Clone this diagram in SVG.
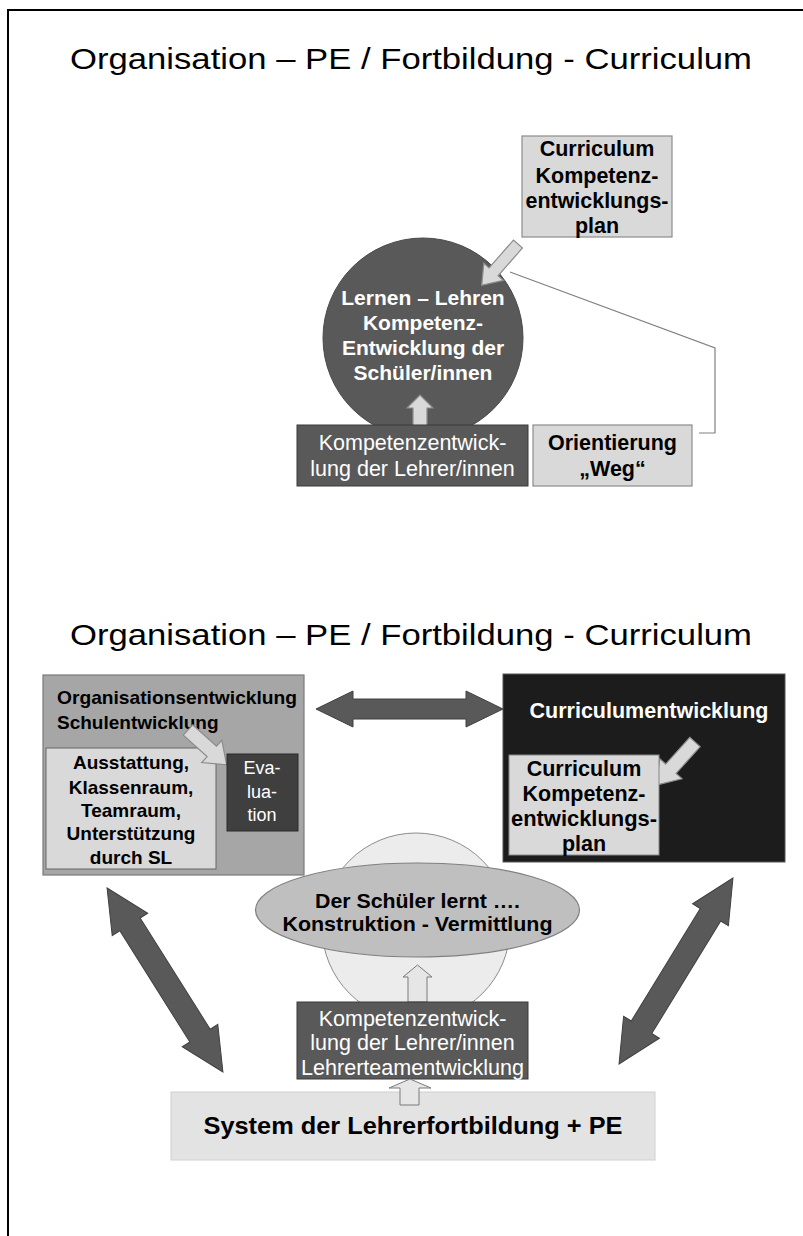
<svg xmlns="http://www.w3.org/2000/svg" width="803" height="1236" viewBox="0 0 803 1236">
<style>
.title{font-family:"Liberation Sans",Arial,sans-serif;font-size:30px;fill:#000}
.b{font-family:"Liberation Sans",Arial,sans-serif;font-weight:bold;text-anchor:middle}
.n{font-family:"Liberation Sans",Arial,sans-serif;text-anchor:middle}
.lt{fill:#d9d9d9;stroke:#8c8c8c;stroke-width:1.2}
.dk{fill:#595959;stroke:#3a3a3a;stroke-width:1}
.big{fill:#595959;stroke:#404040;stroke-width:1}
.hol{fill:#e6e6e6;stroke:#7a7a7a;stroke-width:1}
</style>
<rect x="0" y="0" width="803" height="1236" fill="#fff"/>
<g id="frame" fill="none" stroke="#000" stroke-width="2">
<path d="M8,1236 V10 H803"/>
</g>
<text class="title" x="70" y="69" textLength="682" lengthAdjust="spacingAndGlyphs">Organisation – PE / Fortbildung  - Curriculum</text>
<text class="title" x="70" y="645" textLength="682" lengthAdjust="spacingAndGlyphs">Organisation – PE / Fortbildung  - Curriculum</text>

<!-- TOP SECTION -->
<g id="connectors-top">
<polyline points="510,272 715,348 715,433 699,433" fill="none" stroke="#808080" stroke-width="1.2"/>
</g>
<g id="circle-top">
<circle cx="423" cy="338" r="100" fill="#595959" stroke="#4a4a4a"/>
<g class="b" fill="#fff" font-size="21">
<text x="423" y="305">Lernen – Lehren</text>
<text x="423" y="330">Kompetenz-</text>
<text x="423" y="355">Entwicklung der</text>
<text x="423" y="380">Schüler/innen</text>
</g>
</g>
<g id="curriculum-top">
<rect class="lt" x="522" y="136" width="150" height="101"/>
<g class="b" fill="#000" font-size="21.5">
<text x="597" y="156">Curriculum</text>
<text x="597" y="183">Kompetenz-</text>
<text x="597" y="208" textLength="143" lengthAdjust="spacingAndGlyphs">entwicklungs-</text>
<text x="597" y="233">plan</text>
</g>
</g>
<g id="arrows-top">
<path class="lt" transform="translate(518,244) rotate(131.3)" d="M0,-6 L37,-6 L37,-13 L55,0 L37,13 L37,6 L0,6 Z"/>
<path class="lt" transform="translate(420,426) rotate(-90)" d="M0,-7 L18,-7 L18,-13 L31,0 L18,13 L18,7 L0,7 Z"/>
</g>
<g id="lehrer-top">
<rect class="dk" x="297" y="425" width="231" height="61"/>
<g class="n" fill="#fff" font-size="21.5">
<text x="412.5" y="450">Kompetenzentwick-</text>
<text x="412.5" y="476">lung der Lehrer/innen</text>
</g>
</g>
<g id="orientierung-top">
<rect class="lt" x="533" y="425" width="159" height="61"/>
<g class="b" fill="#000" font-size="21.5">
<text x="612.5" y="450">Orientierung</text>
<text x="612.5" y="476">„Weg“</text>
</g>
</g>

<!-- BOTTOM SECTION -->
<g id="org-box">
<rect x="43" y="675" width="261" height="200" fill="#a6a6a6" stroke="#7a7a7a" stroke-width="1.2"/>
<g font-family="Liberation Sans, Arial, sans-serif" font-weight="bold" font-size="19" fill="#000">
<text x="57" y="704" textLength="240" lengthAdjust="spacingAndGlyphs">Organisationsentwicklung</text>
<text x="57" y="729">Schulentwicklung</text>
</g>
</g>
<g id="ausstattung">
<rect x="46" y="748" width="170" height="121" fill="#d9d9d9" stroke="#666" stroke-width="1"/>
<g class="b" fill="#000" font-size="19">
<text x="131" y="769">Ausstattung,</text>
<text x="131" y="794">Klassenraum,</text>
<text x="131" y="817">Teamraum,</text>
<text x="131" y="840">Unterstützung</text>
<text x="131" y="864">durch SL</text>
</g>
</g>
<g id="arrow-org">
<path class="lt" transform="translate(188,730) rotate(42)" d="M0,-7 L32,-7 L32,-15 L52,0 L32,15 L32,7 L0,7 Z"/>
</g>
<g id="evaluation">
<rect x="227" y="754" width="71" height="77" fill="#3f3f3f" stroke="#2a2a2a"/>
<g class="n" fill="#fff" font-size="18">
<text x="262" y="774">Eva-</text>
<text x="262" y="798">lua-</text>
<text x="262" y="821">tion</text>
</g>
</g>

<g id="curr-box">
<rect x="503" y="674" width="282" height="188" fill="#1c1c1c" stroke="#555" stroke-width="1"/>
<text class="b" x="649" y="718" fill="#fff" font-size="21.5">Curriculumentwicklung</text>
</g>
<g id="arrow-curr">
<path class="lt" transform="translate(695,742) rotate(132)" d="M0,-7 L36,-7 L36,-15 L58,0 L36,15 L36,7 L0,7 Z"/>
</g>
<g id="curr-inner">
<rect x="509" y="755" width="150" height="100" fill="#d9d9d9" stroke="#888" stroke-width="1"/>
<g class="b" fill="#000" font-size="21.5">
<text x="584" y="776">Curriculum</text>
<text x="584" y="801">Kompetenz-</text>
<text x="584" y="826" textLength="146" lengthAdjust="spacingAndGlyphs">entwicklungs-</text>
<text x="584" y="851">plan</text>
</g>
</g>

<g id="connectors">
<path class="big" transform="translate(409.5,709)" d="M-93.5,0 L-56.5,-18 L-56.5,-10 L56.5,-10 L56.5,-18 L93.5,0 L56.5,18 L56.5,10 L-56.5,10 L-56.5,18 Z"/>
<path class="big" transform="translate(165,980) rotate(57.8)" d="M-108.7,0 L-65.7,-21 L-65.7,-12 L65.7,-12 L65.7,-21 L108.7,0 L65.7,21 L65.7,12 L-65.7,12 L-65.7,21 Z"/>
<path class="big" transform="translate(676,971) rotate(121.5)" d="M-109,0 L-66,-21 L-66,-12 L66,-12 L66,-21 L109,0 L66,21 L66,12 L-66,12 L-66,21 Z"/>
</g>

<g id="circle-bottom">
<circle cx="416" cy="927" r="94" fill="#ececec" stroke="#8c8c8c" stroke-width="1"/>
</g>
<g id="ellipse">
<ellipse cx="417.5" cy="910" rx="162" ry="47" fill="#bfbfbf" stroke="#7f7f7f" stroke-width="1.2"/>
<g class="b" fill="#000" font-size="21">
<text x="417.5" y="908" textLength="205" lengthAdjust="spacingAndGlyphs">Der Schüler lernt ….</text>
<text x="417.5" y="931" textLength="270" lengthAdjust="spacingAndGlyphs">Konstruktion - Vermittlung</text>
</g>
</g>
<g id="arrow-up1">
<path class="hol" d="M408,1002 L408,977 L403,977 L417.5,965 L432,977 L427,977 L427,1002 Z"/>
</g>
<g id="system-box">
<rect x="171" y="1092" width="484" height="68" fill="#e3e3e3" stroke="#d0d0d0" stroke-width="1"/>
<text class="b" x="413" y="1134" fill="#000" font-size="24" textLength="419" lengthAdjust="spacingAndGlyphs">System der Lehrerfortbildung + PE</text>
</g>
<g id="lehrer-bottom">
<rect class="dk" x="297" y="1002" width="231" height="77"/>
<g class="n" fill="#fff" font-size="21.5">
<text x="412.5" y="1026">Kompetenzentwick-</text>
<text x="412.5" y="1050">lung der Lehrer/innen</text>
<text x="412.5" y="1075" textLength="223" lengthAdjust="spacingAndGlyphs">Lehrerteamentwicklung</text>
</g>
</g>
<g id="arrow-up2">
<path class="hol" d="M400,1105 L400,1088 L389,1088 L410,1079 L431,1088 L419,1088 L419,1105 Z"/>
</g>
</svg>
